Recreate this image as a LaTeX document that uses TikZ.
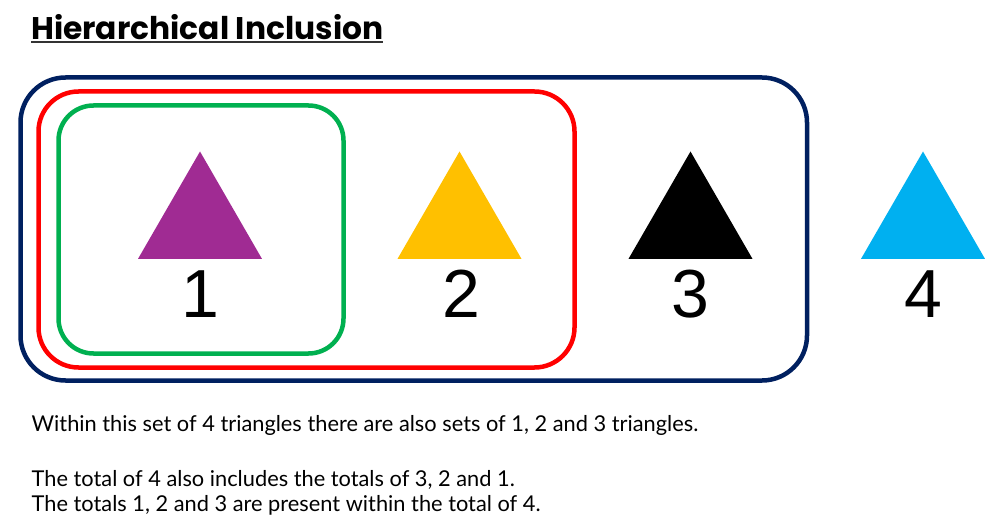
\documentclass[tikz,border=0pt]{standalone}
\usepackage{fontspec}
\setmainfont{Liberation Sans}
\newfontfamily\titlefont{Poppins}
\newfontfamily\bodyfont{Lato}
\usetikzlibrary{shapes.geometric,positioning}

\definecolor{navyset}{HTML}{002060}
\definecolor{redset}{HTML}{FF0000}
\definecolor{greenset}{HTML}{00B050}
\definecolor{tripurple}{HTML}{A02B93}
\definecolor{triyellow}{HTML}{FFC000}
\definecolor{tricyan}{HTML}{00B0F0}

\newcommand\titleline[1]{\setbox0\hbox{#1}\rlap{\color{black!80}\rule[-3pt]{\wd0}{2pt}}\box0}

\begin{document}
\begin{tikzpicture}[x=1pt,y=-1pt,
    setbox/.style={line width=4.5pt,rounded corners=#1},
    tri/.style={regular polygon,regular polygon sides=3,minimum size=143pt,inner sep=0pt,draw=none},
    digit/.style={anchor=base,inner sep=0pt,font=\fontsize{68}{68}\selectfont},
    line/.style={anchor=base west,inner sep=0pt,font=\bodyfont\fontsize{21.8}{25}\selectfont}]

                \useasboundingbox[fill=white] (0,0) rectangle (1000,529);

                \node[anchor=base west,inner sep=0pt,font=\titlefont\bfseries\fontsize{31.3}{32}\selectfont] (title) at (31,40) {\titleline{Hierarchical Inclusion}};

                % nested sets
                \draw[setbox=45pt,navyset] (20.5,77.5) rectangle (807,380.5);
                \draw[setbox=40pt,redset] (38.5,91.5) rectangle (574.5,367.5);
                \draw[setbox=35pt,greenset] (58.5,105.5) rectangle (343.5,353.5);

                \node[tri,fill=tripurple] (t1) at (200,223) {};
                \node[tri,fill=triyellow] (t2) at (459.5,223) {};
                \node[tri,fill=black] (t3) at (690.5,223) {};
                \node[tri,fill=tricyan] (t4) at (923,223) {};

                \node[digit] (n1) at (200,317) {1};
                \node[digit] (n2) at (461,317) {2};
                \node[digit] (n3) at (690.5,317) {3};
                \node[digit] (n4) at (923,317) {4};

                \node[line] (l1) at (31.5,431.5) {Within this set of 4 triangles there are also sets of 1, 2 and 3 triangles.};
                \node[line] (l2) at (31.5,486) {The total of 4 also includes the totals of 3, 2 and 1.};
                \node[line] (l3) at (31.5,511) {The totals 1, 2 and 3 are present within the total of 4.};

            \end{tikzpicture}
\end{document}
